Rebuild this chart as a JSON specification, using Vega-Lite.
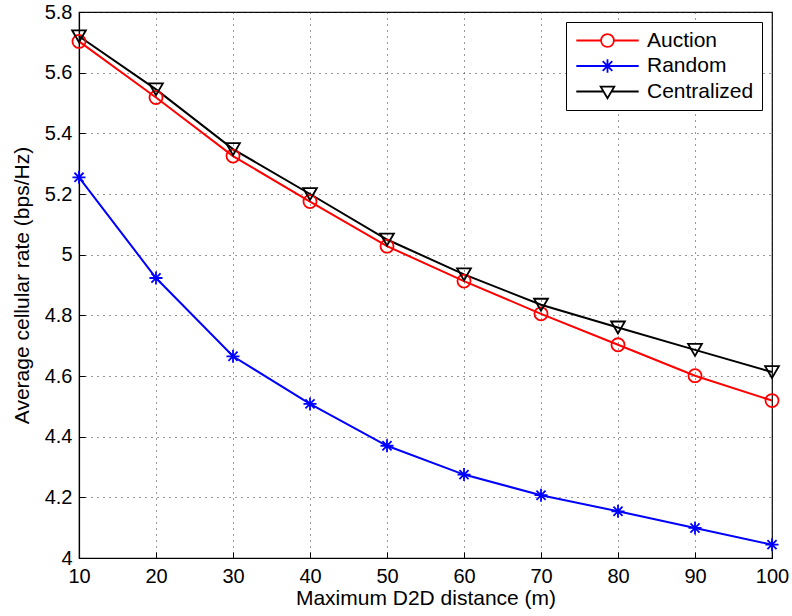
{
  "$schema": "https://vega.github.io/schema/vega-lite/v6.json",
  "width": 693,
  "height": 546,
  "autosize": {"type": "none"},
  "padding": {"left": 79, "top": 12, "right": 20, "bottom": 58},
  "background": "white",
  "config": {
    "font": "Liberation Sans",
    "view": {"stroke": "black", "strokeWidth": 1.2},
    "axis": {
      "labelFont": "Liberation Sans",
      "titleFont": "Liberation Sans",
      "labelFontSize": 20,
      "titleFontSize": 21,
      "titleFontWeight": "normal",
      "labelColor": "black",
      "titleColor": "black",
      "domainColor": "black",
      "domainWidth": 1.2,
      "tickColor": "black",
      "tickSize": -6,
      "grid": true,
      "gridColor": "#333333",
      "gridDash": [1, 5],
      "gridWidth": 1,
      "gridOpacity": 1
    }
  },
  "data": {
    "values": [
      {"series": "Auction", "d": 10, "rate": 5.703},
      {"series": "Auction", "d": 20, "rate": 5.518},
      {"series": "Auction", "d": 30, "rate": 5.325},
      {"series": "Auction", "d": 40, "rate": 5.175},
      {"series": "Auction", "d": 50, "rate": 5.028},
      {"series": "Auction", "d": 60, "rate": 4.913},
      {"series": "Auction", "d": 70, "rate": 4.805},
      {"series": "Auction", "d": 80, "rate": 4.703},
      {"series": "Auction", "d": 90, "rate": 4.601},
      {"series": "Auction", "d": 100, "rate": 4.519},
      {"series": "Random", "d": 10, "rate": 5.255},
      {"series": "Random", "d": 20, "rate": 4.923},
      {"series": "Random", "d": 30, "rate": 4.665},
      {"series": "Random", "d": 40, "rate": 4.508},
      {"series": "Random", "d": 50, "rate": 4.370},
      {"series": "Random", "d": 60, "rate": 4.275},
      {"series": "Random", "d": 70, "rate": 4.207},
      {"series": "Random", "d": 80, "rate": 4.154},
      {"series": "Random", "d": 90, "rate": 4.099},
      {"series": "Random", "d": 100, "rate": 4.044},
      {"series": "Centralized", "d": 10, "rate": 5.720},
      {"series": "Centralized", "d": 20, "rate": 5.545},
      {"series": "Centralized", "d": 30, "rate": 5.348},
      {"series": "Centralized", "d": 40, "rate": 5.200},
      {"series": "Centralized", "d": 50, "rate": 5.050},
      {"series": "Centralized", "d": 60, "rate": 4.935},
      {"series": "Centralized", "d": 70, "rate": 4.835},
      {"series": "Centralized", "d": 80, "rate": 4.760},
      {"series": "Centralized", "d": 90, "rate": 4.686},
      {"series": "Centralized", "d": 100, "rate": 4.613}
    ]
  },
  "encoding": {
    "x": {
      "field": "d",
      "type": "quantitative",
      "scale": {"domain": [10, 100], "nice": false, "zero": false},
      "axis": {"values": [10, 20, 30, 40, 50, 60, 70, 80, 90, 100], "title": "Maximum D2D distance (m)", "labelPadding": 14, "titlePadding": 1, "labelFlush": false}
    },
    "y": {
      "field": "rate",
      "type": "quantitative",
      "scale": {"domain": [4, 5.8], "nice": false, "zero": false},
      "axis": {"values": [4, 4.2, 4.4, 4.6, 4.8, 5, 5.2, 5.4, 5.6, 5.8], "format": "~g", "title": "Average cellular rate (bps/Hz)", "labelPadding": 13, "titlePadding": 12, "labelFlush": false}
    },
    "color": {
      "field": "series",
      "type": "nominal",
      "scale": {"domain": ["Auction", "Random", "Centralized"], "range": ["#ff0000", "#0000ff", "#000000"]},
      "legend": {
        "title": null,
        "orient": "top-right",
        "offset": 10,
        "padding": 8,
        "fillColor": "white",
        "strokeColor": "black",
        "labelFont": "Liberation Sans",
        "labelFontSize": 21,
        "labelColor": "black",
        "symbolSize": 256,
        "symbolStrokeWidth": 1.8,
        "symbolOffset": 23,
        "labelOffset": 29,
        "rowPadding": 3.5,
        "encode": {
          "symbols": {
            "update": {
              "shape": {"signal": "datum.value === 'Auction' ? 'M-3.9,0H-0.8M0.8,0H3.9M-0.8,0A0.8,0.8 0 1,0 0.8,0A0.8,0.8 0 1,0 -0.8,0' : datum.value === 'Random' ? 'M-3.9,0H3.9M0,-0.85V0.85M-0.6,-0.6L0.6,0.6M-0.6,0.6L0.6,-0.6' : 'M-3.9,0H-0.5M0.5,0H3.9M-0.85,-0.6L0.85,-0.6L0,0.85Z'"},
              "size": {"value": 256},
              "fill": {"value": "transparent"},
              "strokeWidth": {"value": 1.8}
            }
          }
        }
      }
    }
  },
  "layer": [
    {
      "mark": {"type": "line", "strokeWidth": 2}
    },
    {
      "transform": [{"filter": "datum.series === 'Auction'"}],
      "mark": {"type": "point", "shape": "circle", "filled": false, "size": 170, "strokeWidth": 1.8, "opacity": 1}
    },
    {
      "transform": [{"filter": "datum.series === 'Random'"}],
      "mark": {"type": "point", "shape": "M-1,0H1M0,-1V1M-0.7,-0.7L0.7,0.7M-0.7,0.7L0.7,-0.7", "filled": false, "size": 170, "strokeWidth": 1.8, "opacity": 1}
    },
    {
      "transform": [{"filter": "datum.series === 'Centralized'"}],
      "mark": {"type": "point", "shape": "triangle-down", "filled": false, "size": 190, "strokeWidth": 1.8, "opacity": 1}
    }
  ]
}
